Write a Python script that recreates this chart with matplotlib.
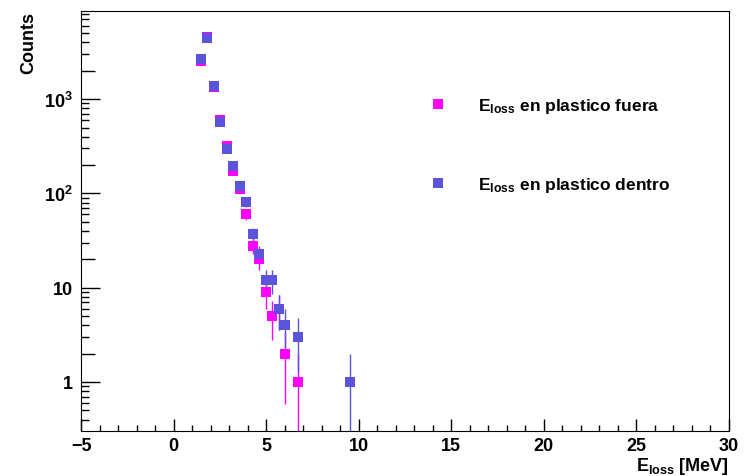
import numpy as np
import matplotlib
matplotlib.use("Agg")
import matplotlib.pyplot as plt
from matplotlib.lines import Line2D
from matplotlib.ticker import FixedLocator, FixedFormatter, LogLocator, MultipleLocator, NullFormatter

plt.rcParams['font.family'] = ['Liberation Sans', 'DejaVu Sans']
plt.rcParams['font.weight'] = 'bold'
plt.rcParams['mathtext.fontset'] = 'custom'
plt.rcParams['mathtext.rm'] = 'Liberation Sans:bold'
plt.rcParams['mathtext.it'] = 'Liberation Sans:bold'
plt.rcParams['mathtext.bf'] = 'Liberation Sans:bold'
plt.rcParams['mathtext.default'] = 'rm'

# centros de bin (100 bins entre -5 y 30 MeV)
e_fuera = [1.475, 1.825, 2.175, 2.525, 2.875, 3.225, 3.575, 3.925, 4.275,
           4.625, 4.975, 5.325, 5.675, 6.025, 6.725]
n_fuera = [2550, 4600, 1350, 600, 318, 173, 111, 60, 28, 20, 9, 5, 6, 2, 1]

e_dentro = [1.475, 1.825, 2.175, 2.525, 2.875, 3.225, 3.575, 3.925, 4.275,
            4.625, 4.975, 5.325, 5.675, 6.025, 6.725, 9.525]
n_dentro = [2650, 4500, 1380, 572, 296, 195, 120, 81, 37, 23, 12, 12, 6, 4, 3, 1]

col_fuera = '#FF00FF'
col_dentro = '#5B53D9'

yticks = [1, 10, 100, 1000]
ylabels = ['1', '10', r'$10^{2}$', r'$10^{3}$']

fig = plt.figure(figsize=(7.46, 4.77), dpi=100)
ax = fig.add_axes([0.1086, 0.0943, 0.8686, 0.8805])

for e, n, c in [(e_fuera, n_fuera, col_fuera), (e_dentro, n_dentro, col_dentro)]:
    n = np.array(n, dtype=float)
    err = np.sqrt(n)
    ax.errorbar(e, n, yerr=err, fmt='s', color=c, ms=7.2, mew=0,
                elinewidth=1, capsize=2, capthick=1)

ax.set_yscale('log')
ax.set_xlim(-5, 30)
ax.set_ylim(0.302, 8600)

ax.xaxis.set_major_locator(MultipleLocator(5))
ax.xaxis.set_minor_locator(MultipleLocator(1))
ax.yaxis.set_major_locator(FixedLocator(yticks))
ax.yaxis.set_major_formatter(FixedFormatter(ylabels))
ax.yaxis.set_minor_locator(LogLocator(base=10, subs=np.arange(2, 10)))
ax.yaxis.set_minor_formatter(NullFormatter())

ax.tick_params(axis='both', which='both', direction='in', top=False, right=False,
               labelsize=13, width=1)
ax.tick_params(axis='x', which='major', length=8.6, pad=4)
ax.tick_params(axis='x', which='minor', length=4.3)
ax.tick_params(axis='y', which='major', length=13.7, pad=6)
ax.tick_params(axis='y', which='minor', length=6.0)

ax.set_xlabel(r'E$_{loss}$ [MeV]', fontsize=13, fontweight='bold', loc='right', labelpad=1)
ax.set_ylabel('Counts', fontsize=13, fontweight='bold', loc='top', labelpad=5)

handles = [Line2D([], [], marker='s', ls='', color=col_fuera, ms=7.2, mew=0),
           Line2D([], [], marker='s', ls='', color=col_dentro, ms=7.2, mew=0)]
ax.legend(handles, [r'E$_{loss}$ en plastico fuera', r'E$_{loss}$ en plastico dentro'],
          loc='center left', bbox_to_anchor=(0.538, 0.681), frameon=False,
          fontsize=12.5, handlelength=1.0, handletextpad=1.8, labelspacing=3.48,
          borderpad=0, borderaxespad=0)

# las marcas en 2, 20, 200... son algo mas largas (estilo ROOT)
fig.canvas.draw()
for tick, loc in zip(ax.yaxis.get_minor_ticks(), ax.yaxis.get_minorticklocs()):
    mant = loc / 10 ** np.floor(np.log10(loc) + 1e-9)
    if abs(mant - 2) < 1e-6:
        tick.tick1line.set_markersize(10.0)

fig.savefig('out.png', dpi=100)
